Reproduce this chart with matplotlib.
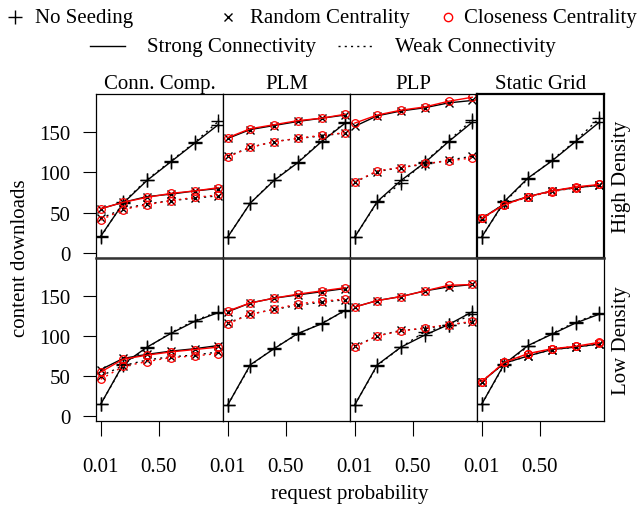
import matplotlib
matplotlib.use("Agg")
import matplotlib.pyplot as plt

plt.rcParams['font.family'] = ['Liberation Serif', 'DejaVu Serif']

# ---------------- data ----------------
request_prob = [0.01, 0.2, 0.4, 0.6, 0.8, 1.0]
networks = ["Conn. Comp.", "PLM", "PLP", "Static Grid"]
densities = ["High Density", "Low Density"]
x_ticks = [0.01, 0.50]
x_tick_labels = ["0.01", "0.50"]
y_ticks = [0, 50, 100, 150]

# keys: none/rand/clos = No Seeding / Random Centrality / Closeness Centrality
#       _s / _w = Strong / Weak Connectivity
cc_high = dict(none_s=[21, 62, 90, 113, 136, 159], none_w=[20, 63, 91, 114, 137, 163],
               rand_s=[55, 63, 70, 73, 77, 80], clos_s=[55, 63, 69, 74, 77, 81],
               rand_w=[43, 55, 61, 65, 68, 71], clos_w=[41, 54, 60, 65, 69, 72])
plm_high = dict(none_s=[20, 62, 90, 112, 138, 161], none_w=[20, 62, 91, 113, 139, 162],
                rand_s=[142, 153, 158, 163, 167, 171], clos_s=[143, 154, 159, 164, 167, 172],
                rand_w=[120, 131, 138, 142, 145, 149], clos_w=[119, 131, 138, 142, 146, 149])
plp_high = dict(none_s=[20, 64, 90, 112, 138, 162], none_w=[20, 63, 87, 113, 139, 165],
                rand_s=[157, 170, 176, 180, 186, 189], clos_s=[161, 171, 177, 181, 188, 193],
                rand_w=[88, 101, 106, 110, 115, 120], clos_w=[88, 102, 106, 111, 114, 118])
sg_high = dict(none_s=[20, 64, 93, 114, 138, 162], none_w=[20, 63, 92, 115, 139, 167],
               rand_s=[43, 61, 70, 77, 81, 84], clos_s=[43, 60, 70, 77, 82, 85],
               rand_w=[42, 61, 69, 77, 81, 84], clos_w=[43, 60, 70, 76, 81, 85])
cc_low = dict(none_s=[15, 65, 86, 103, 118, 129], none_w=[15, 64, 85, 104, 119, 130],
              rand_s=[58, 72, 77, 81, 84, 88], clos_s=[55, 71, 76, 80, 83, 86],
              rand_w=[50, 63, 70, 74, 76, 80], clos_w=[46, 62, 68, 73, 75, 78])
plm_low = dict(none_s=[14, 64, 84, 103, 115, 132], none_w=[14, 63, 85, 102, 116, 131],
               rand_s=[130, 141, 147, 151, 155, 159], clos_s=[131, 141, 147, 152, 156, 160],
               rand_w=[116, 127, 133, 138, 142, 145], clos_w=[115, 127, 133, 140, 143, 146])
plp_low = dict(none_s=[14, 64, 86, 101, 114, 130], none_w=[14, 63, 86, 105, 113, 127],
               rand_s=[136, 144, 149, 156, 161, 164], clos_s=[136, 144, 149, 156, 163, 164],
               rand_w=[87, 100, 107, 109, 114, 117], clos_w=[86, 100, 106, 110, 114, 118])
sg_low = dict(none_s=[15, 65, 88, 102, 116, 127], none_w=[15, 64, 87, 103, 117, 128],
              rand_s=[43, 66, 75, 83, 86, 90], clos_s=[43, 67, 78, 84, 87, 92],
              rand_w=[43, 66, 75, 83, 86, 90], clos_w=[43, 67, 77, 84, 87, 91])

panels = [[cc_high, plm_high, plp_high, sg_high],
          [cc_low, plm_low, plp_low, sg_low]]

# ---------------- layout ----------------
W, H = 642, 506
fs = 15
fig = plt.figure(figsize=(W / 100, H / 100), dpi=100)

left, right, top, mid, bottom = 96, 604, 95, 259, 422
colw = (right - left) / 4
row_edges = [(top, mid), (mid, bottom)]

dot = (0, (1.5, 3))
styles = {
    'none': dict(color='black', marker='+', ms=9.5, mew=1.0, mfc='none'),
    'rand': dict(color='black', marker='x', ms=5.5, mew=1.0, mfc='none'),
    'clos': dict(color='red', marker='o', ms=5.5, mew=0.9, mfc='none'),
}

for r in range(2):
    y_top, y_bot = row_edges[r]
    for c in range(4):
        ax = fig.add_axes([(left + c * colw) / W, 1 - y_bot / H, colw / W, (y_bot - y_top) / H])
        d = panels[r][c]
        for key in ['none', 'rand', 'clos']:
            st = styles[key]
            ax.plot(request_prob, d[key + '_w'], linestyle=dot, lw=1.0, **st)
            ax.plot(request_prob, d[key + '_s'], linestyle='-', lw=1.0, **st)
        ax.set_xlim(-0.03, 1.04)
        ax.set_ylim(-6, 197)
        for s in ax.spines.values():
            s.set_linewidth(0.9)
        if r == 1:
            ax.spines['top'].set_linewidth(1.8)
            ax.spines['top'].set_color('#333333')
        if r == 0 and c == 3:
            for s in ax.spines.values():
                s.set_linewidth(1.6)
        if r == 1:
            ax.set_xticks(x_ticks)
            ax.set_xticklabels(x_tick_labels, fontsize=fs)
            ax.tick_params(axis='x', direction='out', length=11, width=0.8, pad=15)
        else:
            ax.set_xticks([])
        if c == 0:
            ax.set_yticks(y_ticks)
            ax.set_yticklabels([str(v) for v in y_ticks], fontsize=fs)
            ax.tick_params(axis='y', direction='out', length=9.5, width=0.8, pad=9)
        else:
            ax.set_yticks([])
        if r == 0:
            ax.text(0.5, 1.005, networks[c], transform=ax.transAxes, ha='center', va='bottom', fontsize=fs)
        if c == 3:
            ax.text(1.14, 0.5, densities[r], transform=ax.transAxes, ha='center', va='center',
                    rotation=90, fontsize=fs)

fig.text(21 / W, 1 - 258 / H, "content downloads", rotation=90, ha='center', va='center', fontsize=fs)
fig.text(350 / W, 1 - 495 / H, "request probability", ha='center', va='center', fontsize=fs)

# ---------------- legend ----------------
lg = fig.add_axes([0, 0, 1, 1])
lg.set_xlim(0, W)
lg.set_ylim(H, 0)
lg.axis('off')
y1, y2 = 18, 47
lg.plot([15], [y1], marker='+', ms=10, mew=1.0, color='black')
lg.text(35, y1, "No Seeding", va='center', ha='left', fontsize=fs)
lg.plot([228], [y1], marker='x', ms=6, mew=1.0, color='black')
lg.text(250, y1, "Random Centrality", va='center', ha='left', fontsize=fs)
lg.plot([448], [y1], marker='o', ms=6, mew=1.0, color='red', mfc='none')
lg.text(464, y1, "Closeness Centrality", va='center', ha='left', fontsize=fs)
lg.plot([90, 125], [y2, y2], color='black', lw=1.0)
lg.text(147, y2, "Strong Connectivity", va='center', ha='left', fontsize=fs)
lg.plot([338, 375], [y2, y2], color='black', lw=1.0, linestyle=dot)
lg.text(395, y2, "Weak Connectivity", va='center', ha='left', fontsize=fs)

fig.savefig("out.png", dpi=100)
